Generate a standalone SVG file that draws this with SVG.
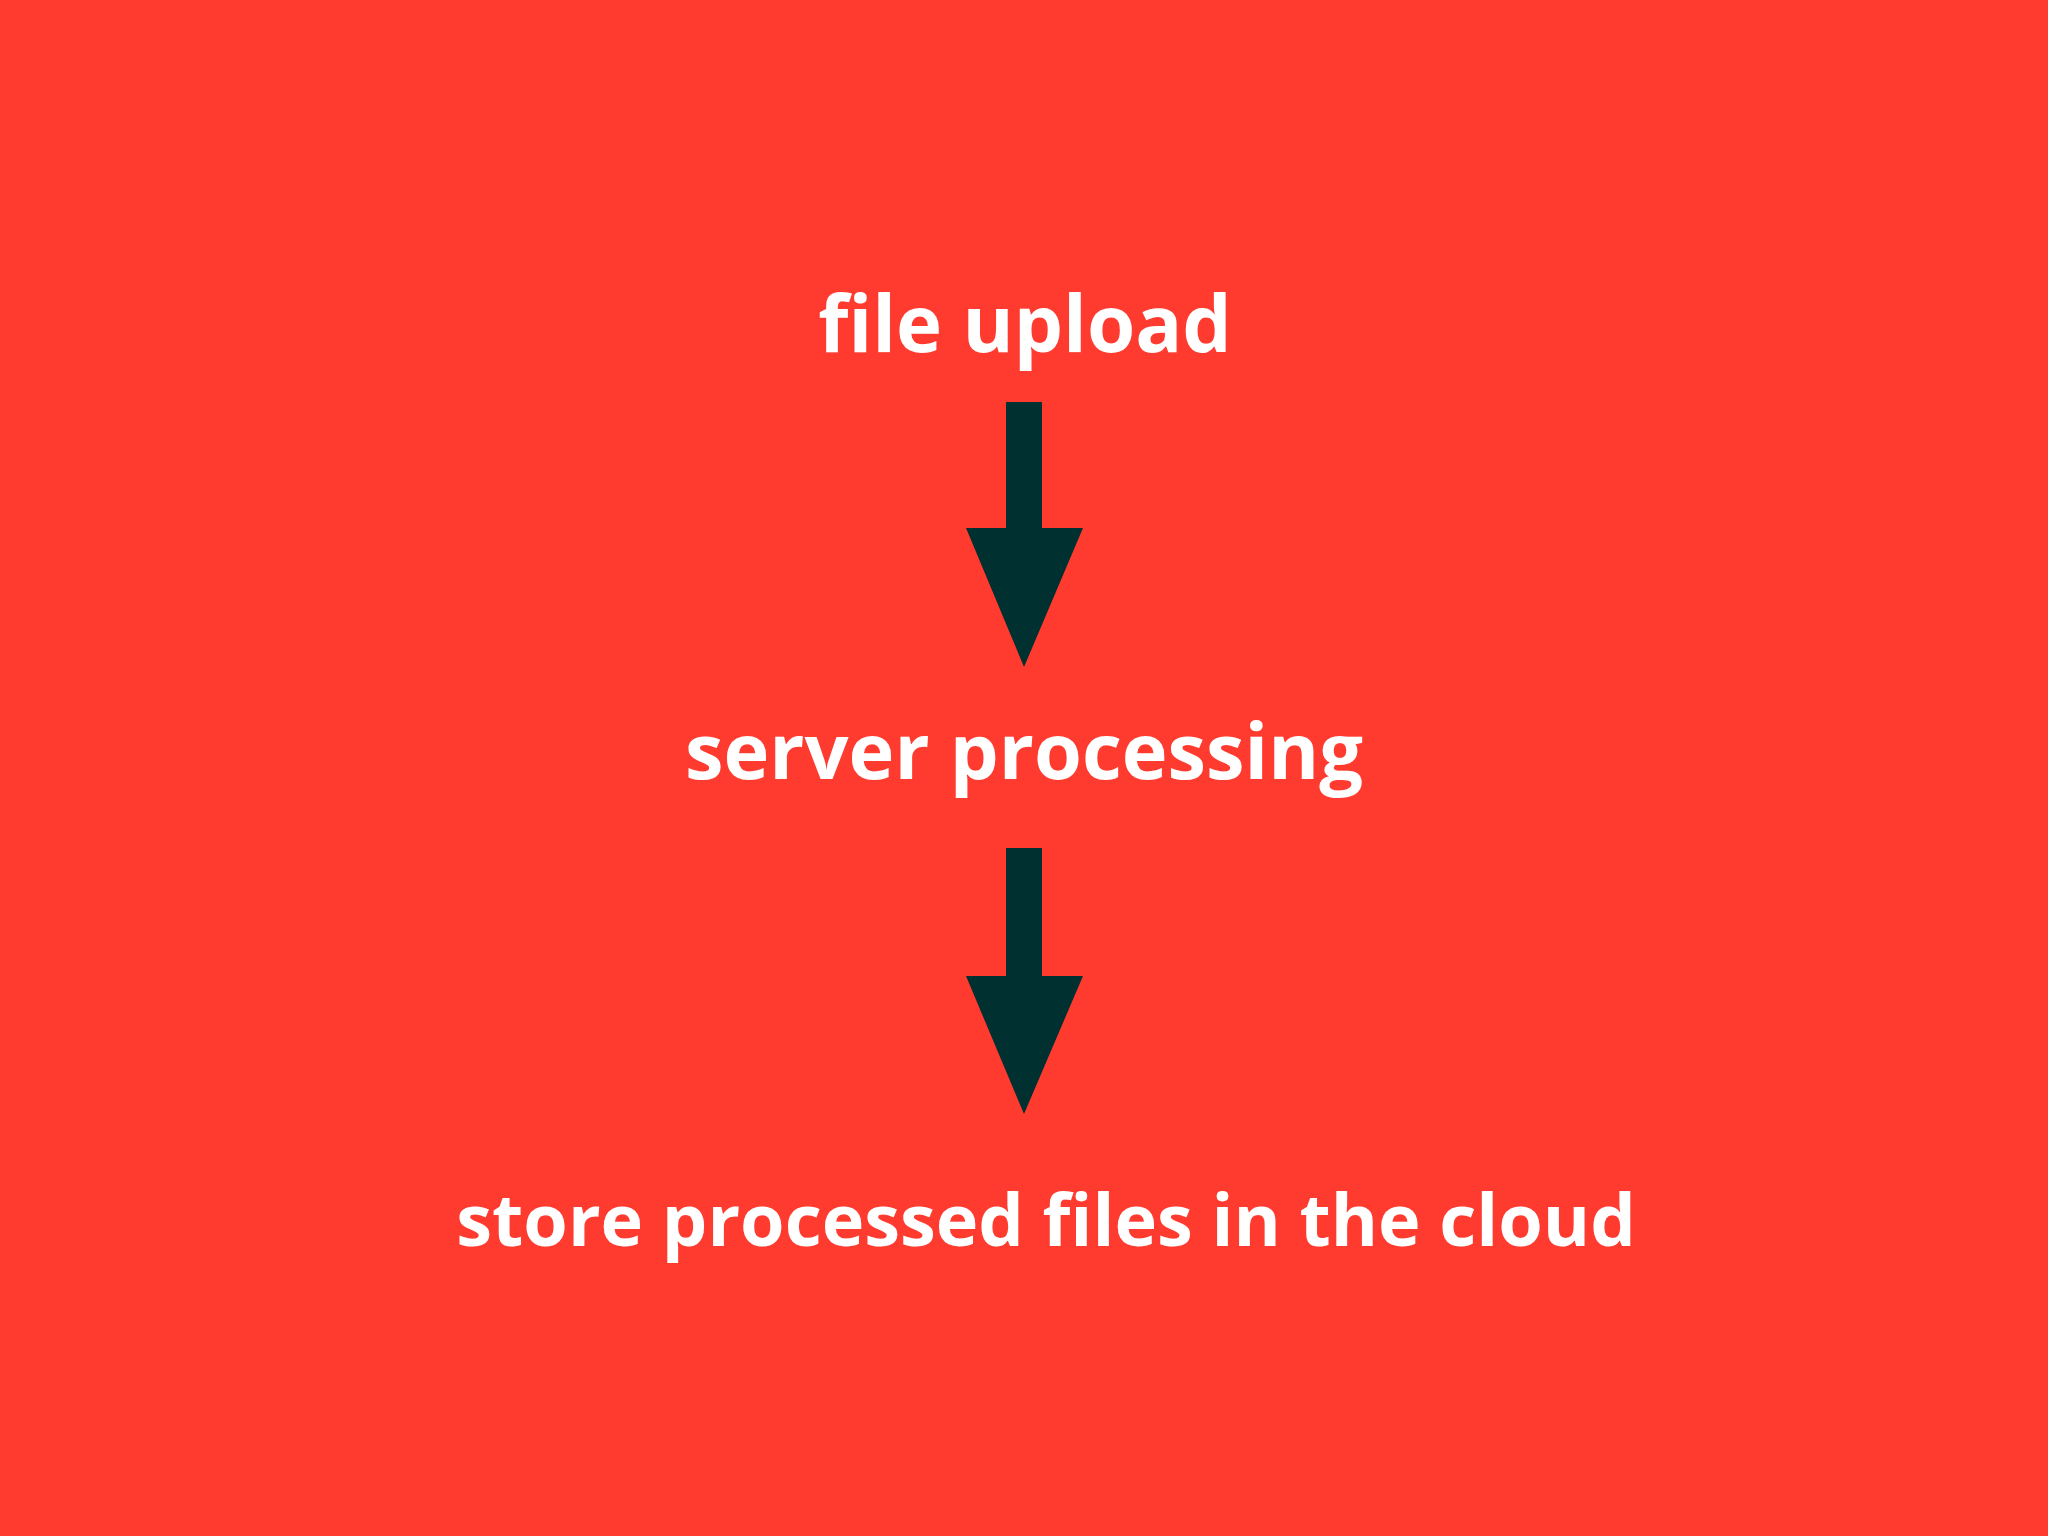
<svg xmlns="http://www.w3.org/2000/svg" width="2048" height="1536" viewBox="0 0 2048 1536">
<style>
.lbl{font-family:"Open Sans","Noto Sans",sans-serif;font-weight:700;fill:#ffffff;text-anchor:middle}
.arr{fill:#00302F}
</style>
<rect x="0" y="0" width="2048" height="1536" fill="#FF3B30"/>
<g id="node-upload"><text class="lbl" x="1025" y="352" font-size="78">file upload</text></g>
<g id="node-server"><text class="lbl" x="1024" y="779" font-size="77.5">server processing</text></g>
<g id="node-store"><text class="lbl" x="1046" y="1246" font-size="72">store processed files in the cloud</text></g>
<g id="connectors">
<polygon class="arr" points="1006,402 1042,402 1042,528 1083,528 1024,667 966,528 1006,528"/>
<polygon class="arr" points="1006,848 1042,848 1042,976 1083,976 1024,1114 966,976 1006,976"/>
</g>
</svg>
